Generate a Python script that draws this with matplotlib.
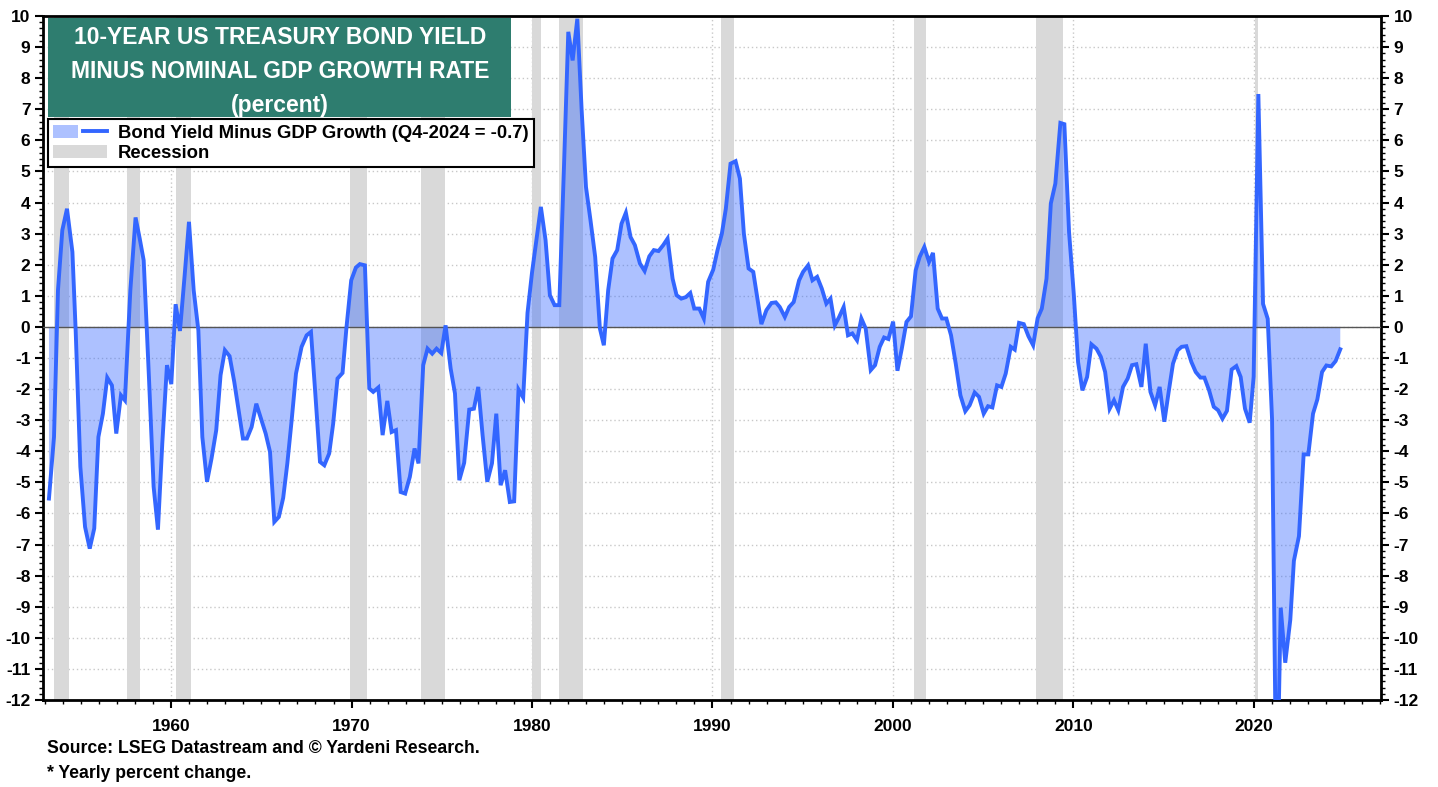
import matplotlib
matplotlib.use("Agg")
import matplotlib.pyplot as plt
from matplotlib.patches import Patch, Rectangle
from matplotlib.lines import Line2D
from matplotlib.legend_handler import HandlerTuple
from matplotlib.ticker import MultipleLocator
import numpy as np

plt.rcParams['font.family'] = ['Liberation Sans', 'DejaVu Sans']
plt.rcParams['font.weight'] = 'bold'
plt.rcParams['axes.unicode_minus'] = False

# quarterly readings (decimal year, percent)
years = [
    1953.23, 1953.51, 1953.73, 1953.97, 1954.23, 1954.53, 1954.71, 1954.97, 1955.23, 1955.49,
    1955.74, 1955.97, 1956.22, 1956.46, 1956.72, 1956.96, 1957.22, 1957.44, 1957.74, 1958.03,
    1958.26, 1958.48, 1958.77, 1959.03, 1959.27, 1959.51, 1959.77, 1960.01, 1960.25, 1960.49,
    1960.75, 1960.99, 1961.25, 1961.51, 1961.73, 1961.99, 1962.24, 1962.50, 1962.74, 1962.98,
    1963.24, 1963.50, 1963.74, 1963.98, 1964.20, 1964.46, 1964.72, 1964.98, 1965.24, 1965.48,
    1965.72, 1965.97, 1966.21, 1966.44, 1966.68, 1966.92, 1967.23, 1967.51, 1967.75, 1967.99,
    1968.25, 1968.49, 1968.76, 1968.98, 1969.22, 1969.50, 1969.72, 1969.98, 1970.24, 1970.46,
    1970.74, 1970.98, 1971.20, 1971.48, 1971.72, 1971.98, 1972.22, 1972.46, 1972.72, 1972.97,
    1973.23, 1973.49, 1973.71, 1973.97, 1974.21, 1974.47, 1974.71, 1974.97, 1975.21, 1975.49,
    1975.73, 1975.97, 1976.24, 1976.52, 1976.78, 1977.02, 1977.26, 1977.52, 1977.78, 1978.02,
    1978.26, 1978.51, 1978.77, 1979.01, 1979.25, 1979.51, 1979.75, 1980.00, 1980.24, 1980.49,
    1980.75, 1980.99, 1981.25, 1981.51, 1981.77, 1982.01, 1982.25, 1982.51, 1982.75, 1982.99,
    1983.24, 1983.50, 1983.76, 1983.98, 1984.22, 1984.46, 1984.72, 1984.96, 1985.20, 1985.46,
    1985.70, 1985.98, 1986.24, 1986.50, 1986.75, 1987.01, 1987.27, 1987.51, 1987.79, 1988.01,
    1988.27, 1988.53, 1988.77, 1988.99, 1989.27, 1989.52, 1989.76, 1990.04, 1990.28, 1990.52,
    1990.74, 1991.00, 1991.28, 1991.52, 1991.74, 1992.00, 1992.26, 1992.71, 1992.99, 1993.27,
    1993.51, 1993.73, 1994.01, 1994.25, 1994.50, 1994.80, 1995.02, 1995.30, 1995.54, 1995.80,
    1996.06, 1996.31, 1996.54, 1996.78, 1997.02, 1997.27, 1997.51, 1997.75, 1998.01, 1998.25,
    1998.49, 1998.77, 1999.01, 1999.27, 1999.51, 1999.75, 2000.01, 2000.25, 2000.49, 2000.75,
    2001.00, 2001.26, 2001.48, 2001.74, 2002.00, 2002.22, 2002.48, 2002.72, 2002.96, 2003.22,
    2003.48, 2003.74, 2004.01, 2004.25, 2004.53, 2004.77, 2005.03, 2005.27, 2005.51, 2005.77,
    2006.01, 2006.25, 2006.53, 2006.75, 2006.99, 2007.25, 2007.51, 2007.77, 2008.02, 2008.25,
    2008.51, 2008.75, 2009.00, 2009.28, 2009.50, 2009.76, 2010.02, 2010.26, 2010.50, 2010.76,
    2011.00, 2011.28, 2011.52, 2011.76, 2012.01, 2012.25, 2012.49, 2012.75, 2013.01, 2013.25,
    2013.49, 2013.77, 2014.01, 2014.27, 2014.53, 2014.78, 2015.04, 2015.28, 2015.52, 2015.78,
    2016.00, 2016.26, 2016.54, 2016.78, 2017.04, 2017.26, 2017.52, 2017.78, 2018.02, 2018.26,
    2018.51, 2018.77, 2019.03, 2019.27, 2019.51, 2019.77, 2019.99, 2020.25, 2020.51, 2020.77,
    2021.01, 2021.26, 2021.49, 2021.74, 2022.02, 2022.22, 2022.50, 2022.76, 2023.02, 2023.28,
    2023.52, 2023.78, 2024.02, 2024.29, 2024.53, 2024.79,
]
spread = [
    -5.52, -3.54, 1.18, 3.11, 3.80, 2.41, -0.11, -4.50, -6.43, -7.13,
    -6.48, -3.54, -2.79, -1.63, -1.88, -3.43, -2.20, -2.36, 1.18, 3.52,
    2.84, 2.14, -1.61, -5.14, -6.52, -3.75, -1.23, -1.84, 0.73, -0.13,
    1.66, 3.38, 1.18, -0.11, -3.54, -4.98, -4.23, -3.32, -1.55, -0.75,
    -0.94, -1.77, -2.68, -3.59, -3.59, -3.22, -2.47, -2.95, -3.43, -4.02,
    -6.27, -6.11, -5.50, -4.39, -3.00, -1.50, -0.64, -0.27, -0.16, -2.14,
    -4.34, -4.45, -4.07, -3.11, -1.66, -1.48, 0.00, 1.50, 1.91, 2.02,
    1.98, -1.98, -2.09, -1.95, -3.48, -2.38, -3.38, -3.32, -5.31, -5.36,
    -4.82, -3.91, -4.39, -1.23, -0.70, -0.86, -0.70, -0.84, 0.05, -1.34,
    -2.14, -4.93, -4.37, -2.66, -2.63, -1.93, -3.48, -4.98, -4.39, -2.79,
    -5.09, -4.61, -5.63, -5.61, -2.01, -2.27, 0.45, 1.75, 2.79, 3.86,
    2.79, 1.02, 0.70, 0.70, 5.14, 9.49, 8.57, 9.91, 6.97, 4.50,
    3.43, 2.25, -0.05, -0.59, 1.18, 2.20, 2.47, 3.32, 3.67, 2.89,
    2.63, 2.04, 1.80, 2.27, 2.47, 2.44, 2.63, 2.84, 1.55, 1.02,
    0.91, 0.96, 1.09, 0.59, 0.59, 0.27, 1.45, 1.84, 2.47, 3.00,
    3.80, 5.25, 5.33, 4.77, 3.00, 1.88, 1.77, 0.09, 0.54, 0.77,
    0.79, 0.64, 0.32, 0.64, 0.80, 1.50, 1.77, 1.98, 1.50, 1.61,
    1.23, 0.75, 0.91, 0.05, 0.32, 0.64, -0.27, -0.21, -0.43, 0.27,
    -0.05, -1.39, -1.23, -0.64, -0.34, -0.39, 0.17, -1.41, -0.70, 0.16,
    0.34, 1.82, 2.25, 2.57, 2.09, 2.38, 0.59, 0.27, 0.27, -0.27,
    -1.18, -2.20, -2.71, -2.52, -2.11, -2.25, -2.79, -2.55, -2.59, -1.88,
    -1.93, -1.50, -0.64, -0.73, 0.13, 0.09, -0.30, -0.59, 0.28, 0.59,
    1.55, 3.97, 4.61, 6.56, 6.52, 3.05, 1.07, -1.13, -2.04, -1.61,
    -0.56, -0.70, -0.96, -1.45, -2.63, -2.36, -2.68, -1.93, -1.66, -1.23,
    -1.20, -1.93, -0.54, -2.09, -2.52, -1.93, -3.05, -2.09, -1.18, -0.75,
    -0.64, -0.62, -1.13, -1.45, -1.63, -1.63, -2.04, -2.57, -2.68, -2.95,
    -2.70, -1.37, -1.26, -1.61, -2.63, -3.08, -1.60, 7.49, 0.74, 0.26,
    -2.98, -16.0, -9.03, -10.80, -9.42, -7.52, -6.73, -4.10, -4.10, -2.79,
    -2.33, -1.45, -1.24, -1.27, -1.10, -0.72,
]

# NBER recessions
rec_start = [1953.50, 1957.58, 1960.25, 1969.92, 1973.83, 1980.00, 1981.50, 1990.50, 2001.17, 2007.92, 2020.08]
rec_end = [1954.33, 1958.25, 1961.08, 1970.83, 1975.17, 1980.50, 1982.83, 1991.17, 2001.83, 2009.42, 2020.25]

title_lines = "10-YEAR US TREASURY BOND YIELD\nMINUS NOMINAL GDP GROWTH RATE\n(percent)"
series_label = "Bond Yield Minus GDP Growth (Q4-2024 = -0.7)"

line_col = '#3366ff'
rec_col = '#d9d9d9'

fig = plt.figure(figsize=(14.38, 7.87), dpi=100)
ax = fig.add_axes([0.0299, 0.1105, 0.9305, 0.8692])

x = np.array(years)
y = np.array(spread)

for s, e in zip(rec_start, rec_end):
    ax.axvspan(s, e, color=rec_col, lw=0, zorder=1)

ax.fill_between(x, y, 0, color=line_col, alpha=0.4, lw=0, zorder=2)
ax.axhline(0, color='#555555', lw=1, zorder=3)
ax.plot(x, y, color=line_col, lw=2.8, zorder=4, solid_joinstyle='miter')

ax.set_xlim(1952.9, 2027.05)
ax.set_ylim(-12, 10)

ax.xaxis.set_minor_locator(MultipleLocator(1))
ax.yaxis.set_major_locator(MultipleLocator(1))
ax.yaxis.set_minor_locator(MultipleLocator(0.2))
ax.set_xticks([1960, 1970, 1980, 1990, 2000, 2010, 2020])
ax.set_xticklabels(['1960', '1970', '1980', '1990', '2000', '2010', '2020'])

ax.grid(True, which='major', color='#c8c8c8', lw=1, linestyle=(0, (1, 2)), zorder=0)
ax.set_axisbelow(True)

ax.tick_params(axis='both', which='major', labelsize=12.5, width=1.5, length=6, direction='out')
ax.tick_params(axis='both', which='minor', width=1, length=3, direction='out')
ax.tick_params(axis='y', which='both', left=True, right=True, labelleft=True, labelright=True)
ax.tick_params(axis='y', which='major', pad=3)
ax.tick_params(axis='x', which='major', pad=8)
for lab in ax.get_xticklabels() + ax.get_yticklabels():
    lab.set_fontweight('bold')
for sp in ax.spines.values():
    sp.set_linewidth(2)

# title box
ax.add_patch(Rectangle((0.0037, 0.852), 0.346, 0.145, transform=ax.transAxes,
                       facecolor='#2e7d6f', edgecolor='none', zorder=6))
ax.text(0.177, 0.919, title_lines, transform=ax.transAxes, ha='center', va='center',
        color='white', fontsize=16.5, fontweight='bold', linespacing=1.6, zorder=7)

# legend
h_series = (Patch(facecolor=line_col, alpha=0.4, edgecolor='none'),
            Line2D([0], [0], color=line_col, lw=2.8))
h_rec = Patch(facecolor=rec_col, edgecolor='none')
leg = ax.legend([h_series, h_rec], [series_label, 'Recession'],
                handler_map={tuple: HandlerTuple(ndivide=None)},
                loc='upper left', bbox_to_anchor=(0.0037, 0.849), fancybox=False,
                framealpha=1, edgecolor='black', fontsize=13.3, borderpad=0.3,
                labelspacing=0.15, handlelength=2.9, handletextpad=0.6, borderaxespad=0)
leg.get_frame().set_linewidth(1.5)
leg.set_zorder(7)
for t in leg.get_texts():
    t.set_fontweight('bold')

fig.text(0.0327, 0.049, "Source: LSEG Datastream and \u00a9 Yardeni Research.", fontsize=12.7,
         fontweight='bold', va='center')
fig.text(0.0327, 0.017, "* Yearly percent change.", fontsize=12.7, fontweight='bold', va='center')

fig.savefig('out.png', dpi=100)
